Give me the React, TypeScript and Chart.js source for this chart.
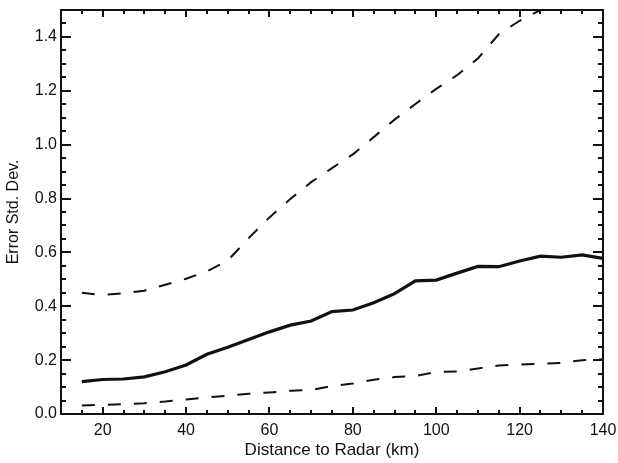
import React, { useEffect, useRef } from "react";
import { Chart, registerables } from "chart.js";

Chart.register(...registerables);

// Distance to radar (km)
const distanceKm = [15, 20, 25, 30, 35, 40, 45, 50, 55, 60, 65, 70, 75, 80, 85, 90, 95, 100, 105, 110, 115, 120, 125, 130, 135, 140];

// Mean error std. dev. (solid)
const meanError = [0.12, 0.128, 0.13, 0.138, 0.157, 0.182, 0.222, 0.248, 0.277, 0.305, 0.33, 0.345, 0.38, 0.386, 0.413, 0.447, 0.494, 0.497, 0.523, 0.548, 0.547, 0.568, 0.586, 0.582, 0.591, 0.578];

// Lower bound (dashed)
const lowerBound = [0.032, 0.034, 0.036, 0.04, 0.046, 0.054, 0.062, 0.068, 0.075, 0.08, 0.086, 0.089, 0.104, 0.113, 0.127, 0.137, 0.141, 0.156, 0.158, 0.169, 0.18, 0.184, 0.186, 0.19, 0.2, 0.203];

// Upper bound (dashed)
const upperBound = [0.45, 0.442, 0.448, 0.458, 0.48, 0.502, 0.53, 0.57, 0.653, 0.73, 0.798, 0.861, 0.913, 0.964, 1.028, 1.093, 1.151, 1.207, 1.258, 1.32, 1.41, 1.46, 1.5, 1.53, 1.56, 1.59];

const xTickValues = [20, 40, 60, 80, 100, 120, 140];
const xTickLabels = ["20", "40", "60", "80", "100", "120", "140"];
const yTickValues = [0, 0.2, 0.4, 0.6, 0.8, 1.0, 1.2, 1.4];
const yTickLabels = ["0.0", "0.2", "0.4", "0.6", "0.8", "1.0", "1.2", "1.4"];

const X_MIN = 10;
const X_MAX = 140;
const Y_MIN = 0;
const Y_MAX = 1.5;

const INK = "#111111";
const FONT = "'Liberation Sans', Arial, Helvetica, sans-serif";

const framePlugin = {
  id: "idlFrame",
  afterDatasetsDraw(chart: any) {
    const { ctx, chartArea, scales } = chart;
    const { left, right, top, bottom } = chartArea;
    const xs = scales.x;
    const ys = scales.y;
    ctx.save();
    ctx.strokeStyle = INK;
    ctx.lineWidth = 2;
    ctx.lineCap = "butt";
    ctx.beginPath();
    // x ticks every 5, major every 20
    for (let i = 0; i * 5 + X_MIN <= X_MAX; i++) {
      const v = X_MIN + i * 5;
      const px = Math.round(xs.getPixelForValue(v));
      const len = v % 20 === 0 ? 7 : 4;
      ctx.moveTo(px, bottom);
      ctx.lineTo(px, bottom - len);
      ctx.moveTo(px, top);
      ctx.lineTo(px, top + len);
    }
    // y ticks every 0.05, major every 0.2
    for (let i = 0; i <= 30; i++) {
      const v = Y_MIN + i * 0.05;
      const py = Math.round(ys.getPixelForValue(v));
      const len = i % 4 === 0 ? 10 : 5;
      ctx.moveTo(left, py);
      ctx.lineTo(left + len, py);
      ctx.moveTo(right, py);
      ctx.lineTo(right - len, py);
    }
    ctx.stroke();
    ctx.strokeRect(left, top, right - left, bottom - top);
    ctx.restore();
  },
};

export default function App() {
  const canvasRef = useRef<HTMLCanvasElement | null>(null);

  useEffect(() => {
    if (!canvasRef.current) return;
    const chart = new Chart(canvasRef.current, {
      type: "line",
      data: {
        labels: distanceKm,
        datasets: [
          {
            label: "Upper",
            data: distanceKm.map((d, i) => ({ x: d, y: upperBound[i] })),
            borderColor: INK,
            borderWidth: 2,
            borderDash: [13, 13],
            pointRadius: 0,
            tension: 0,
            fill: false,
          },
          {
            label: "Mean",
            data: distanceKm.map((d, i) => ({ x: d, y: meanError[i] })),
            borderColor: INK,
            borderWidth: 3.2,
            pointRadius: 0,
            tension: 0,
            fill: false,
          },
          {
            label: "Lower",
            data: distanceKm.map((d, i) => ({ x: d, y: lowerBound[i] })),
            borderColor: INK,
            borderWidth: 2,
            borderDash: [13, 13],
            pointRadius: 0,
            tension: 0,
            fill: false,
          },
        ],
      },
      options: {
        responsive: false,
        animation: false,
        layout: { padding: { top: 10, right: 15, left: 0, bottom: 0 } },
        plugins: {
          legend: { display: false },
          tooltip: { enabled: false },
        },
        scales: {
          x: {
            type: "linear",
            min: X_MIN,
            max: X_MAX,
            grid: { display: false, drawTicks: false },
            border: { display: false },
            afterBuildTicks: (s: any) => {
              s.ticks = xTickValues.map((v) => ({ value: v }));
            },
            afterFit: (s: any) => {
              s.height = 49;
              s.paddingLeft = 0;
              s.paddingRight = 0;
            },
            ticks: {
              color: INK,
              padding: 7,
              maxRotation: 0,
              autoSkip: false,
              font: { family: FONT, size: 16 },
              callback: (v: any) => {
                const i = xTickValues.indexOf(Number(v));
                return i >= 0 ? xTickLabels[i] : "";
              },
            },
            title: {
              display: true,
              text: "Distance to Radar (km)",
              color: INK,
              font: { family: FONT, size: 17 },
              padding: { top: 0, bottom: 2 },
            },
          },
          y: {
            type: "linear",
            min: Y_MIN,
            max: Y_MAX,
            grid: { display: false, drawTicks: false },
            border: { display: false },
            afterBuildTicks: (s: any) => {
              s.ticks = yTickValues.map((v) => ({ value: v }));
            },
            afterFit: (s: any) => {
              s.width = 61;
              s.paddingTop = 0;
              s.paddingBottom = 0;
            },
            ticks: {
              color: INK,
              padding: 4,
              autoSkip: false,
              font: { family: FONT, size: 16 },
              callback: (v: any) => {
                const i = yTickValues.findIndex((t) => Math.abs(t - Number(v)) < 1e-9);
                return i >= 0 ? yTickLabels[i] : "";
              },
            },
            title: {
              display: true,
              text: "Error Std. Dev.",
              color: INK,
              font: { family: FONT, size: 16 },
              padding: { top: 4, bottom: 0 },
            },
          },
        },
      },
      plugins: [framePlugin],
    });
    return () => chart.destroy();
  }, []);

  return (
    <div style={{ position: "absolute", left: 0, top: 0, width: 618, height: 463, background: "#fff" }}>
      <canvas ref={canvasRef} width={618} height={463} style={{ display: "block" }} />
    </div>
  );
}
